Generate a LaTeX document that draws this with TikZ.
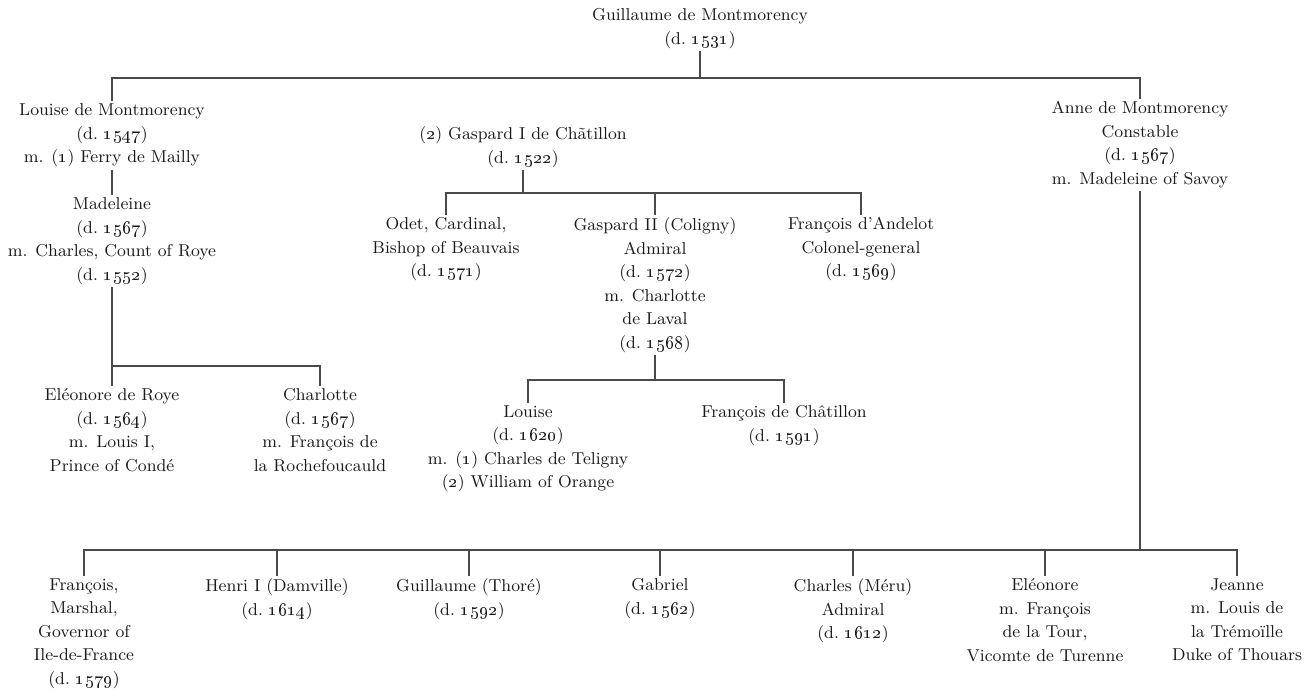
\documentclass[tikz,border=0pt]{standalone}
\usepackage{tikz}
\usetikzlibrary{positioning}

\newcommand{\died}[1]{(d.~\oldstylenums{#1})}
\newcommand{\wed}[1]{(\oldstylenums{#1})}
\definecolor{linegray}{HTML}{4A4A4A}
\definecolor{inkblack}{HTML}{1A1A1A}

\begin{document}
\begin{tikzpicture}[
                    x=0.5pt, y=-0.5pt,
                    line width=0.65pt,
                    every node/.style={font=\fontsize{8.6}{11.75}\selectfont, align=center,
                                       anchor=north, inner sep=1pt, text=inkblack},
                    tie/.style={draw=linegray}
                ]
                  \useasboundingbox (0,0) rectangle (1306,694);

                  % first generation
                  \node (guillaume) at (700,6) {Guillaume de Montmorency\\ \died{1531}};
                  \node (louise) at (112,101) {Louise de Montmorency\\ \died{1547}\\ m. \wed{1} Ferry de Mailly};
                  \node (anne) at (1140,99) {Anne de Montmorency\\ Constable\\ \died{1567}\\ m. Madeleine of Savoy};
                  \node (gaspardI) at (523,124) {\wed{2} Gaspard I de Chãtillon\\ \died{1522}};

                  % Mailly line
                  \node (madeleine) at (112,195) {Madeleine\\ \died{1567}\\ m. Charles, Count of Roye\\ \died{1552}};
                  \node (eleonoreR) at (112,386) {Eléonore de Roye\\ \died{1564}\\ m. Louis I,\\ Prince of Condé};
                  \node (charlotte) at (320,386) {Charlotte\\ \died{1567}\\ m. François de\\ la Rochefoucauld};

                  % Châtillon line
                  \node (odet) at (446,215) {Odet, Cardinal,\\ Bishop of Beauvais\\ \died{1571}};
                  \node (gaspardII) at (655,215) {Gaspard II (Coligny)\\ Admiral\\ \died{1572}\\ m. Charlotte\\ de Laval\\ \died{1568}};
                  \node (andelot) at (861,215) {François d’Andelot\\ Colonel-general\\ \died{1569}};
                  \node (louiseC) at (528,403) {Louise\\ \died{1620}\\ m. \wed{1} Charles de Teligny\\ \wed{2} William of Orange};
                  \node (francoisC) at (784,403) {François de Châtillon\\ \died{1591}};

                  % Montmorency line
                  \node (francois) at (84,576) {François,\\ Marshal,\\ Governor of\\ Ile-de-France\\ \died{1579}};
                  \node (henri) at (277,576) {Henri I (Damville)\\ \died{1614}};
                  \node (guillaumeT) at (469,576) {Guillaume (Thoré)\\ \died{1592}};
                  \node (gabriel) at (660,576) {Gabriel\\ \died{1562}};
                  \node (charles) at (853,576) {Charles (Méru)\\ Admiral\\ \died{1612}};
                  \node (eleonoreT) at (1045,576) {Eléonore\\ m. François\\ de la Tour,\\ Vicomte de Turenne};
                  \node (jeanne) at (1237,576) {Jeanne\\ m. Louis de\\ la Trémoïlle\\ Duke of Thouars};

                  % connectors
                  \coordinate (topbar) at (700,78);
                  \coordinate (roye) at (112,366);
                  \coordinate (chatbar) at (523,193);
                  \coordinate (colbar) at (655,380);
                  \coordinate (anbar) at (1140,550);

                  \draw[tie] (guillaume.south) -- (topbar);
                  \draw[tie] (louise.north) |- (topbar) -| (anne.north);
                  \draw[tie] (louise.south) -- (madeleine.north);
                  \draw[tie] (madeleine.south) -- (eleonoreR.north);
                  \draw[tie] (roye) -| (charlotte.north);
                  \draw[tie] (gaspardI.south) -- (chatbar);
                  \draw[tie] (odet.north) |- (chatbar) -| (andelot.north);
                  \draw[tie] (gaspardII.north) -- (gaspardII.north |- chatbar);
                  \draw[tie] (gaspardII.south) -- (colbar);
                  \draw[tie] (louiseC.north) |- (colbar) -| (francoisC.north);
                  \draw[tie] (anne.south) -- (anbar);
                  \draw[tie] (francois.north) |- (anbar) -| (jeanne.north);
                  \foreach \kid in {henri, guillaumeT, gabriel, charles, eleonoreT}
                    \draw[tie] (\kid.north) -- (\kid.north |- anbar);
                \end{tikzpicture}
\end{document}
